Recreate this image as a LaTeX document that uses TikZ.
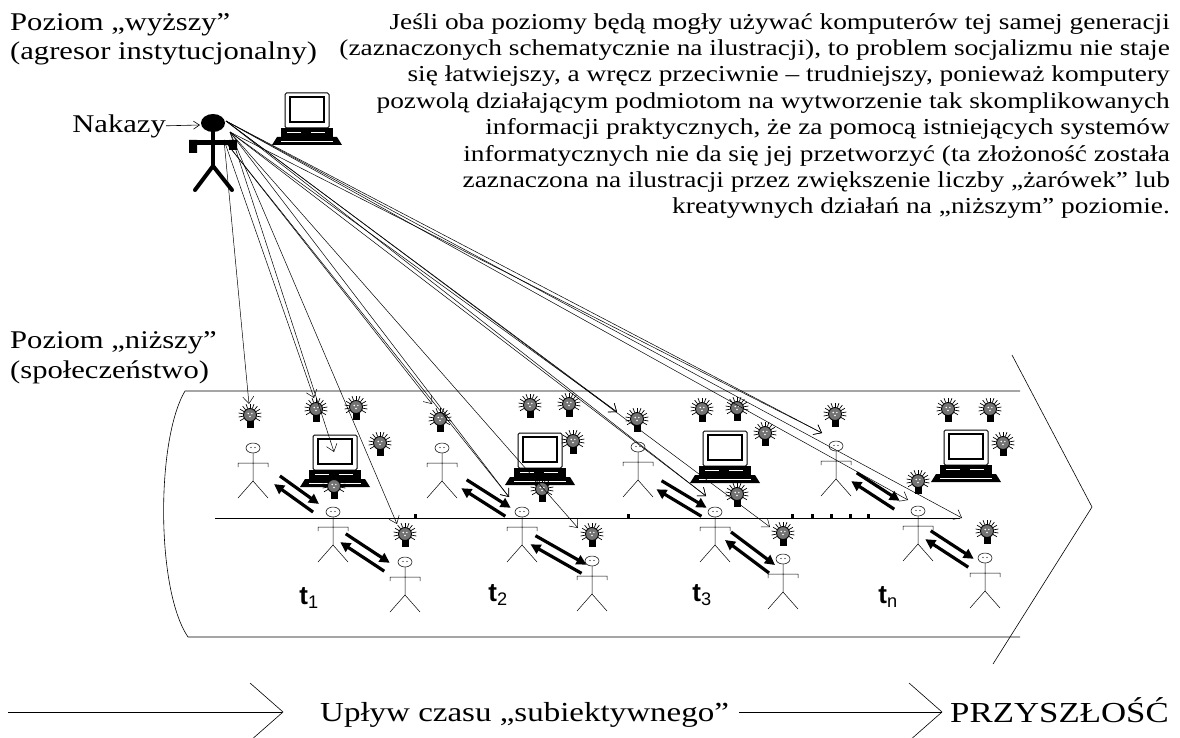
\documentclass[tikz,border=0pt]{standalone}
\usepackage{fontspec}
\setmainfont{Liberation Serif}[FakeStretch=1.2]
\newfontfamily\tfont{Liberation Sans}
\usetikzlibrary{arrows.meta,calc}

\tikzset{
  txt/.style={inner sep=0pt, font=\fontsize{25.5}{29.5}\selectfont},
  para/.style={inner sep=0pt, align=right, font=\fontsize{22.8}{26.4}\selectfont},
  big/.style={inner sep=0pt, font=\fontsize{27.5}{30}\selectfont},
  tlab/.style={inner sep=0pt, font=\tfont\bfseries\fontsize{26}{26}\selectfont},
  ray/.style={line width=0.5pt, -{Straight Barb[length=7pt,width=11pt]}},
  xchg/.style={line width=3.2pt, -{Triangle[length=10pt,width=10pt]}},
  band/.style={line width=0.6pt},
  person/.pic={
    \draw[line width=0.5pt] (0,0) ellipse [x radius=7, y radius=5];
    \fill (-2,-0.5) circle [radius=0.6] (2,-0.5) circle [radius=0.6];
    \draw[line width=0.5pt] (0,5) -- (0,33)
      (-15,19) -- (-15,15) -- (15,15) -- (15,19)
      (-15,50) -- (0,33) -- (15,50);
  },
  bulb/.pic={
    \foreach \a in {150,170,...,390}
      \draw[line width=0.7pt] (\a:7) -- (\a:11.5);
    \filldraw[fill=black!55, line width=0.9pt] (0,0) circle [radius=6.5];
    \fill[white] (-1.8,-1.5) circle [radius=0.8] (1.8,-1.5) circle [radius=0.8] (0,1.5) circle [radius=0.8];
    \fill (-3.5,6) rectangle (3.5,12.5);
  },
  pc/.pic={
    % monitor
    \draw[line width=1pt, rounded corners=1.5] (-22,-35) rectangle (22,0);
    \draw[line width=1.4pt] (-17,-31) rectangle (17,-6);
    % system unit
    \fill (-26,0) rectangle (26,9);
    \draw[white, line width=0.6pt] (-20,4) -- (-6,4) (4,4) -- (18,4);
    % keyboard
    \fill (-30,9) -- (30,9) -- (35,17) -- (-35,17) -- cycle;
    \draw[white, line width=0.5pt] (-26,13) -- (26,13);
  },
}

% two opposite arrows between two points
\newcommand\trade[2]{%
  \draw[xchg] ($(#1)!5pt!90:(#2)$) -- ($(#2)!5pt!-90:(#1)$);
  \draw[xchg] ($(#2)!5pt!90:(#1)$) -- ($(#1)!5pt!-90:(#2)$);
}

\begin{document}
\begin{tikzpicture}[x=1pt, y=-1pt]
  \useasboundingbox (0,0) rectangle (1180,738);

  % texts (base = baseline of the last line)
  \node[txt, anchor=base west, align=left] at (10,60)
    {Poziom „wyższy”\\(agresor instytucjonalny)};
  \node[para, anchor=base east] (note) at (1170,214)
    {Jeśli oba poziomy będą mogły używać komputerów tej samej generacji\\
     (zaznaczonych schematycznie na ilustracji), to problem socjalizmu nie staje\\
     się łatwiejszy, a wręcz przeciwnie – trudniejszy, ponieważ komputery\\
     pozwolą działającym podmiotom na wytworzenie tak skomplikowanych\\
     informacji praktycznych, że za pomocą istniejących systemów\\
     informatycznych nie da się jej przetworzyć (ta złożoność została\\
     zaznaczona na ilustracji przez zwiększenie liczby „żarówek” lub\\
     kreatywnych działań na „niższym” poziomie.};
  \node[txt, anchor=base west, align=left] at (10,378)
    {Poziom „niższy”\\(społeczeństwo)};
  \node[txt, anchor=base east] (orders) at (166,133) {Nakazy};

  % the aggressor
  \fill (213,123) ellipse [x radius=12, y radius=9];
  \draw[line width=4pt] (213,128) -- (213,167);
  \draw[line width=5pt] (190,143) -- (236,143);
  \fill (189,140) rectangle (197,153) (229,140) rectangle (237,150);
  \draw[line width=4pt, line cap=round] (195,190) -- (213,166) -- (232,190);
  \coordinate (head) at (200,125);
  \draw[line width=0.6pt, -{Straight Barb[length=6pt,width=8pt]}] (orders) -- (head);
  \pic at (307,128) {pc};

  % society band
  \draw[band] (1020,391) -- (185,391) .. controls (156,440) and (156,590) .. (188,637) -- (1020,637);
  \draw[band] (1012,355) -- (1092,507) -- (993,664);
  \draw[line width=0.6pt] (215,518) -- (960,518);
  \foreach \x in {415,628,792,812,831,850,868}
    \fill (\x-1.5,514) rectangle (\x+1.5,519);

  % people
  \pic at (253,448) {person};
  \pic at (333,512) {person};
  \pic at (405,562) {person};
  \pic at (442,448) {person};
  \pic at (522,512) {person};
  \pic at (592,561) {person};
  \pic at (638,447) {person};
  \pic at (715,512) {person};
  \pic at (783,559) {person};
  \pic at (836,446) {person};
  \pic at (918,511) {person};
  \pic at (985,558) {person};

  % computers
  \pic at (335,470) {pc};
  \pic at (540,468) {pc};
  \pic at (725,466) {pc};
  \pic at (966,465) {pc};

  % ideas
  \pic at (250,415) {bulb};
  \pic at (316,409) {bulb};
  \pic at (356,407) {bulb};
  \pic at (380,443) {bulb};
  \pic at (334,486) {bulb};
  \pic at (405,534) {bulb};
  \pic at (440,419) {bulb};
  \pic at (530,405) {bulb};
  \pic at (569,404) {bulb};
  \pic at (573,441) {bulb};
  \pic at (542,489) {bulb};
  \pic at (592,534) {bulb};
  \pic at (637,419) {bulb};
  \pic at (702,409) {bulb};
  \pic at (737,408) {bulb};
  \pic at (765,433) {bulb};
  \pic at (737,494) {bulb};
  \pic at (783,533) {bulb};
  \pic at (835,414) {bulb};
  \pic at (918,481) {bulb};
  \pic at (948,409) {bulb};
  \pic at (990,409) {bulb};
  \pic at (1003,443) {bulb};
  \pic at (987,531) {bulb};

  % exchanges between people
  \coordinate (a1) at (277,480); \coordinate (b1) at (316,508);
  \coordinate (a2) at (343,538); \coordinate (b2) at (387,567);
  \coordinate (a3) at (464,484); \coordinate (b3) at (508,512);
  \coordinate (a4) at (533,540); \coordinate (b4) at (584,569);
  \coordinate (a5) at (659,485); \coordinate (b5) at (704,512);
  \coordinate (a6) at (728,536); \coordinate (b6) at (772,569);
  \coordinate (a7) at (854,477); \coordinate (b7) at (897,505);
  \coordinate (a8) at (928,535); \coordinate (b8) at (971,563);
  \trade{a1}{b1} \trade{a2}{b2} \trade{a3}{b3} \trade{a4}{b4}
  \trade{a5}{b5} \trade{a6}{b6} \trade{a7}{b7} \trade{a8}{b8}

  % orders going down
  \coordinate (agH) at (226,121);
  \coordinate (agM) at (230,132);
  \coordinate (agB) at (224,140);
  \coordinate (r1) at (249,404);
  \coordinate (r2) at (314,398);
  \coordinate (r3) at (334,452);
  \coordinate (r4) at (397,524);
  \coordinate (r5) at (432,404);
  \coordinate (r6) at (509,497);
  \coordinate (r7) at (578,528);
  \coordinate (r8) at (617,412);
  \coordinate (r9) at (706,496);
  \coordinate (r10) at (770,527);
  \coordinate (r11) at (822,433);
  \coordinate (r12) at (908,500);
  \coordinate (r13) at (962,518);
  \draw[ray] (agB) -- (r1);
  \draw[ray] (agB) -- (r2);
  \draw[ray] (agM) -- (r3);
  \draw[ray] (agM) -- (r4);
  \draw[ray] (agB) -- (r5);
  \draw[ray] (agM) -- (r6);
  \draw[ray] (agB) -- (r6);
  \draw[ray] (agM) -- (r7);
  \draw[ray] (agH) -- (r8);
  \draw[ray] (agM) -- (r8);
  \draw[ray] (agH) -- (r9);
  \draw[ray] (agM) -- (r9);
  \draw[ray] (agH) -- (r10);
  \draw[ray] (agH) -- (r11);
  \draw[ray] (agM) -- (r11);
  \draw[ray] (agH) -- (r12);
  \draw[ray] (agH) -- (r13);

  % moments of time
  \node[tlab] at (309,598) {t\textsubscript{\mdseries 1}};
  \node[tlab] at (498,595) {t\textsubscript{\mdseries 2}};
  \node[tlab] at (702,595) {t\textsubscript{\mdseries 3}};
  \node[tlab] at (888,597) {t\textsubscript{\mdseries n}};

  % flow of time
  \node[big, anchor=base west] (flow) at (320,721) {Upływ czasu „subiektywnego”};
  \node[big, anchor=base west, font=\fontsize{29}{30}\selectfont] (future) at (950,722) {PRZYSZŁOŚĆ};
  \draw[band] (8,712) -- (282,712);
  \draw[band] (250,683) -- (283,712) -- (250,741);
  \draw[band] (flow.east |- 0,712) ++(10,0) -- (942,712);
  \draw[band] (909,683) -- (942,712) -- (909,741);
\end{tikzpicture}
\end{document}
